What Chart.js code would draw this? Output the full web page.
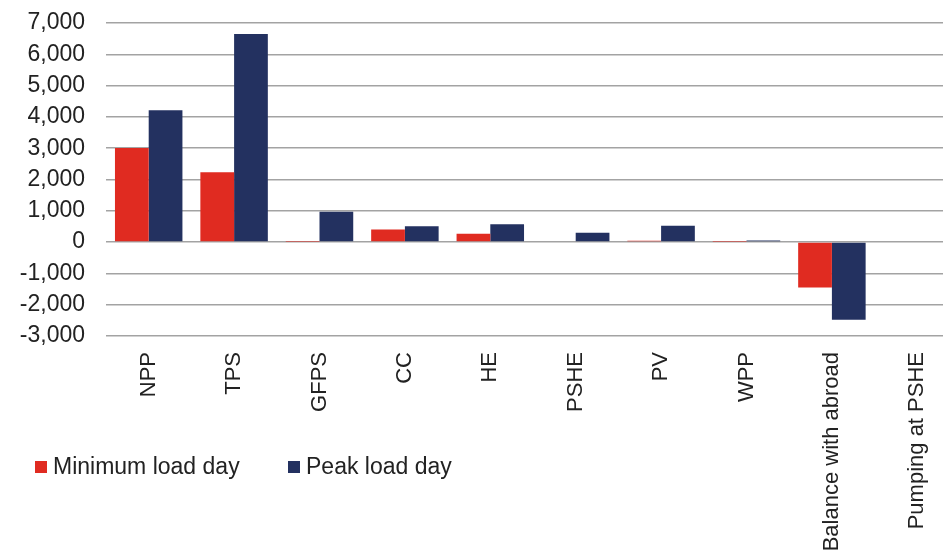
<!doctype html>
<html lang="en">
<head>
    <meta charset="utf-8">
    <script src="https://cdn.jsdelivr.net/npm/chart.js"></script>
    <title>Minimum and peak load day</title>
    <style>
        html, body {
            margin: 0;
            padding: 0;
            background: #fff;
            overflow: hidden;
        }
        /* plot runs a bit past the right edge, like the original crop */
        #wrap {
            position: relative;
            width: 960px;
            height: 560px;
        }
        .legenda {
            position: absolute;
            top: 453px;
            font-family: "Liberation Sans", Arial, sans-serif;
            font-size: 23px;
            color: #222;
            white-space: nowrap;
            line-height: 26px;
        }
        .legend-box {
            display: inline-block;
            width: 12px;
            height: 12px;
            margin-right: 6px;
            vertical-align: 1px;
        }
    </style>
</head>
<body>
    <div id="wrap">
        <canvas id="loadChart" width="960" height="560"></canvas>
        <div class="legenda" style="left: 35px;"><span class="legend-box" id="boxMin"></span>Minimum load day</div>
        <div class="legenda" style="left: 288px;"><span class="legend-box" id="boxPeak"></span>Peak load day</div>
    </div>
    <script type="text/javascript">
        // data
        var kategori = ['NPP', 'TPS', 'GFPS', 'CC', 'HE', 'PSHE', 'PV', 'WPP', 'Balance with abroad', 'Pumping at PSHE'];
        var minimumLoad = [3010, 2230, 15, 400, 270, 0, 40, 10, -1450, -20];
        var peakLoad = [4210, 6650, 970, 510, 570, 300, 520, 50, -2480, 0];
        var seriesNames = ['Minimum load day', 'Peak load day'];
        var yMin = -3000;
        var yMax = 7000;
        var yStep = 1000;

        var warnaMin = '#e02b21';
        var warnaPeak = '#233160';
        document.getElementById('boxMin').style.backgroundColor = warnaMin;
        document.getElementById('boxPeak').style.backgroundColor = warnaPeak;

        var fontX = { family: '"Liberation Sans", Arial, sans-serif', size: 22 };
        var fontY = { family: '"Liberation Sans", Arial, sans-serif', size: 23 };

        var ctx = document.getElementById('loadChart').getContext('2d');
        var loadChart = new Chart(ctx, {
            type: 'bar',
            data: {
                labels: kategori,
                datasets: [{
                    label: seriesNames[0],
                    backgroundColor: warnaMin,
                    borderWidth: 0,
                    data: minimumLoad
                }, {
                    label: seriesNames[1],
                    backgroundColor: warnaPeak,
                    borderWidth: 0,
                    data: peakLoad
                }]
            },
            options: {
                responsive: false,
                animation: false,
                events: [],
                layout: { padding: { top: 23, left: 0, right: 0, bottom: 0 } },
                datasets: {
                    bar: { categoryPercentage: 0.79, barPercentage: 1.0 }
                },
                plugins: {
                    legend: { display: false },
                    tooltip: { enabled: false }
                },
                scales: {
                    x: {
                        grid: { display: false, drawTicks: false },
                        border: { display: false },
                        ticks: {
                            minRotation: 90,
                            maxRotation: 90,
                            autoSkip: false,
                            padding: 16,
                            color: '#222',
                            font: fontX
                        },
                        afterFit: function (scale) {
                            scale.height = 224;
                            scale.paddingLeft = 0;
                            scale.paddingRight = 0;
                        }
                    },
                    y: {
                        min: yMin,
                        max: yMax,
                        grid: { color: '#a3a3a3', lineWidth: 1.5, drawTicks: false },
                        border: { display: false },
                        ticks: {
                            stepSize: yStep,
                            autoSkip: false,
                            padding: 21,
                            color: '#222',
                            font: fontY,
                            callback: function (v) { return v.toLocaleString('en-US'); }
                        },
                        afterFit: function (scale) {
                            scale.width = 106;
                            scale.paddingTop = 0;
                            scale.paddingBottom = 0;
                        }
                    }
                }
            }
        });
    </script>
</body>
</html>
